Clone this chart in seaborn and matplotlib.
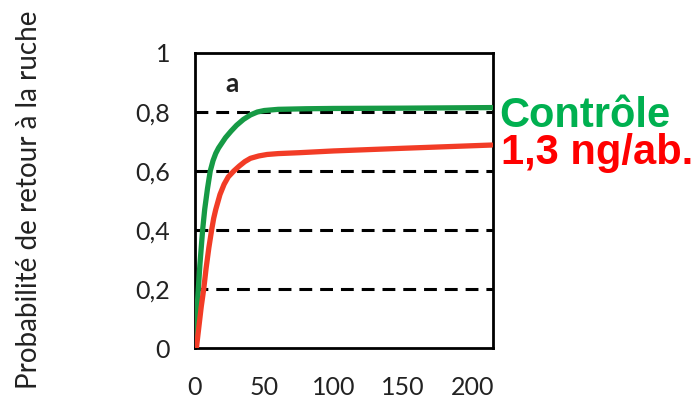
import numpy as np
import pandas as pd
import matplotlib
matplotlib.use('Agg')
import matplotlib.pyplot as plt
import seaborn as sns

# ── DATA ────────────────────────────────────────────────────────────────────
temps_controle = [0, 0.5, 1, 1.7, 2.4, 3.5, 4.5, 5.5, 7, 9, 11, 13, 15, 17, 19, 22,
                  26, 30, 35, 40, 45, 50, 60, 80, 100, 150, 215]
proba_controle = [0, 0.05, 0.1, 0.15, 0.2, 0.28, 0.34, 0.4, 0.47, 0.54, 0.6, 0.635,
                  0.66, 0.678, 0.692, 0.713, 0.735, 0.755, 0.775, 0.79, 0.80, 0.805,
                  0.809, 0.811, 0.812, 0.813, 0.815]

temps_dose = [1, 2, 3, 4.5, 6.3, 8, 10, 12, 13.5, 15, 18, 21, 24, 28, 32, 36, 40,
              46, 52, 60, 75, 100, 150, 214]
proba_dose = [0, 0.04, 0.08, 0.14, 0.2, 0.27, 0.34, 0.4, 0.44, 0.47, 0.52, 0.555,
              0.58, 0.6, 0.617, 0.632, 0.643, 0.651, 0.656, 0.659, 0.662, 0.668,
              0.677, 0.688]

groupes = ["Contrôle", "1,3 ng/ab."]
y_ticks = [0, 0.2, 0.4, 0.6, 0.8, 1]
y_labels = ["0", "0,2", "0,4", "0,6", "0,8", "1"]
x_ticks = [0, 50, 100, 150, 200]

VERT_LIGNE = "#169a45"
ROUGE_LIGNE = "#f23c26"
VERT_TEXTE = "#00b050"
ROUGE_TEXTE = "#ff0000"

df = pd.concat([
    pd.DataFrame({"temps": temps_controle, "proba": proba_controle, "groupe": groupes[0]}),
    pd.DataFrame({"temps": temps_dose, "proba": proba_dose, "groupe": groupes[1]}),
])

# ── PLOT ────────────────────────────────────────────────────────────────────
sns.set_theme(style="white")
plt.rcParams['font.family'] = ['Lato', 'DejaVu Sans']

fig = plt.figure(figsize=(7, 4.03), dpi=100)
ax = fig.add_axes([195 / 700, 1 - 348 / 403, (493 - 195) / 700, (348 - 53) / 403])

# dashed reference lines
for yv in y_ticks[1:-1]:
    ax.axhline(yv, color='black', lw=2.2, ls=(0, (4.2, 2.6)), zorder=1)

sns.lineplot(data=df, x="temps", y="proba", hue="groupe", sort=False,
             palette=[VERT_LIGNE, ROUGE_LIGNE], linewidth=3.8, legend=False,
             ax=ax, zorder=3)
for ln in ax.lines:
    ln.set_solid_joinstyle('round')
    ln.set_solid_capstyle('round')

ax.set_xlim(0, 215)
ax.set_ylim(0, 1)
ax.set_xticks(x_ticks)
ax.set_xticklabels([str(v) for v in x_ticks])
ax.set_yticks(y_ticks)
ax.set_yticklabels(y_labels)
ax.tick_params(axis='both', direction='out', length=7, width=2, color='black',
               labelsize=18, labelcolor='#222222')
ax.tick_params(axis='y', pad=11)
ax.tick_params(axis='x', pad=13)
for s in ax.spines.values():
    s.set_color('black')
    s.set_linewidth(2)

ax.set_xlabel("")
ax.set_ylabel("")
fig.text(29 / 700, 1 - 200 / 403, "Probabilité de retour à la ruche", rotation=90,
         ha='center', va='center', fontsize=20, color='#222222')

ax.text(26.5, 0.895, "a", fontsize=19, fontweight='bold', ha='center', va='center',
        color='#222222')

fig.text(499 / 700, 1 - 127 / 403, groupes[0], color=VERT_TEXTE, fontsize=30,
         fontweight='bold', ha='left', va='baseline', family='Liberation Sans')
fig.text(501 / 700, 1 - 164 / 403, groupes[1], color=ROUGE_TEXTE, fontsize=30,
         fontweight='bold', ha='left', va='baseline', family='Liberation Sans')

plt.savefig('out.png', dpi=100)
plt.close()
